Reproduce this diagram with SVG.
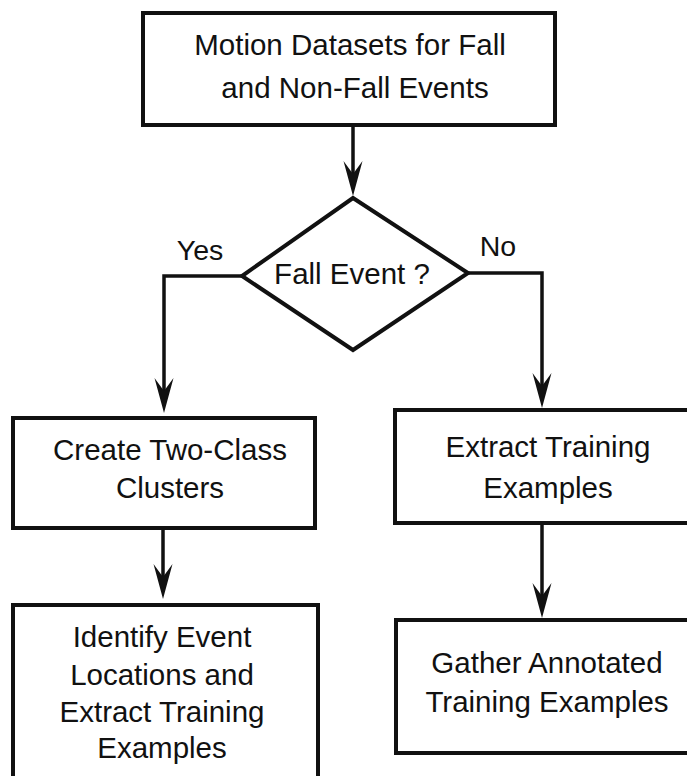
<svg xmlns="http://www.w3.org/2000/svg" width="687" height="776" viewBox="0 0 687 776">
  <style>
    .box { fill: #ffffff; stroke: #111111; stroke-width: 4; }
    .lbl { font-family: "Liberation Sans", Arial, sans-serif; font-size: 29.5px; fill: #111111; text-anchor: middle; }
    .edge-lbl { font-family: "Liberation Sans", Arial, sans-serif; font-size: 28.5px; fill: #111111; text-anchor: middle; }
    .conn { fill: none; stroke: #111111; stroke-width: 3.5; stroke-linejoin: miter; }
  </style>
  <defs>
    <!-- barbed arrowhead; the tip sits 20 units past the line end -->
    <marker id="arrow" markerUnits="userSpaceOnUse" viewBox="-16 -11 37 22" markerWidth="37" markerHeight="22" refX="0" refY="0" orient="auto">
      <path d="M20,0 L-15,-9.5 L-2,0 L-15,9.5 Z" fill="#111111"/>
    </marker>
  </defs>
  <rect width="687" height="776" fill="#ffffff"/>

  <!-- connectors -->
  <g id="connectors">
    <path class="conn" d="M353,125 L353,176" marker-end="url(#arrow)"/>
    <path class="conn" d="M242,276 L164,276 L164,393" marker-end="url(#arrow)"/>
    <path class="conn" d="M468,273 L542,273 L542,388" marker-end="url(#arrow)"/>
    <path class="conn" d="M163,528 L163,579" marker-end="url(#arrow)"/>
    <path class="conn" d="M542,523 L542,598" marker-end="url(#arrow)"/>
    <text class="edge-lbl" x="200" y="260">Yes</text>
    <text class="edge-lbl" x="498" y="256">No</text>
  </g>

  <g id="datasets">
    <rect class="box" x="143" y="13" width="412" height="112"/>
    <text class="lbl" x="350" y="55">Motion Datasets for Fall</text>
    <text class="lbl" x="355" y="98">and Non-Fall Events</text>
  </g>

  <g id="decision">
    <polygon class="box" points="353,198 468,273 353,350 242,276"/>
    <text class="lbl" x="352" y="284">Fall Event ?</text>
  </g>

  <g id="clusters">
    <rect class="box" x="13" y="418" width="302" height="110"/>
    <text class="lbl" x="170" y="460">Create Two-Class</text>
    <text class="lbl" x="170" y="498">Clusters</text>
  </g>

  <g id="extract">
    <rect class="box" x="395" y="410" width="300" height="113"/>
    <text class="lbl" x="548" y="457">Extract Training</text>
    <text class="lbl" x="548" y="498">Examples</text>
  </g>

  <g id="identify">
    <rect class="box" x="13" y="605" width="305" height="180"/>
    <text class="lbl" x="162" y="647">Identify Event</text>
    <text class="lbl" x="162" y="685">Locations and</text>
    <text class="lbl" x="162" y="722">Extract Training</text>
    <text class="lbl" x="162" y="758">Examples</text>
  </g>

  <g id="gather">
    <rect class="box" x="396" y="620" width="300" height="133"/>
    <text class="lbl" x="547" y="673">Gather Annotated</text>
    <text class="lbl" x="547" y="712">Training Examples</text>
  </g>
</svg>
